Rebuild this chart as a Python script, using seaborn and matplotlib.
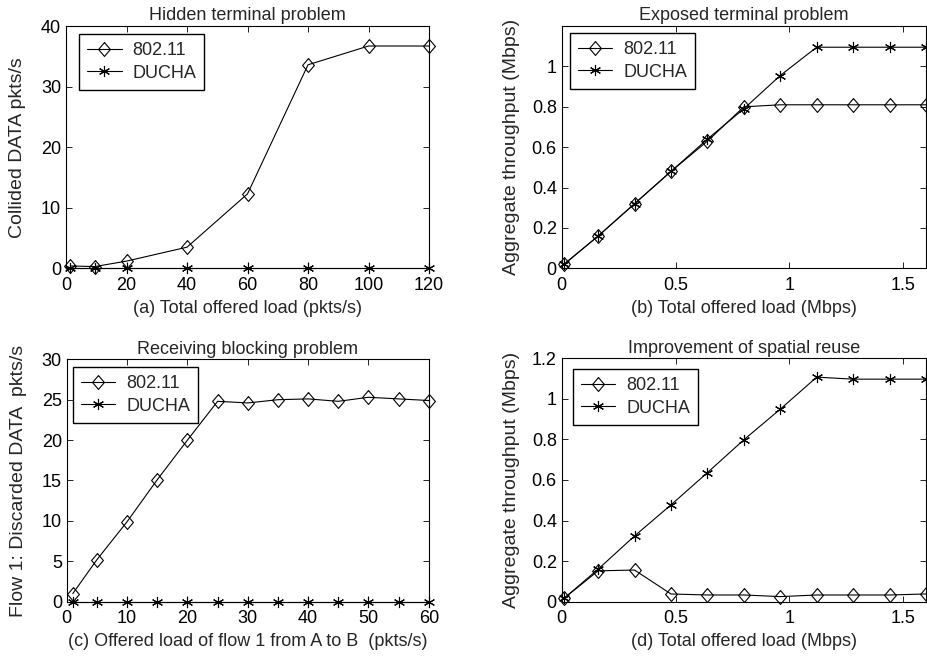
#recreating the four DUCHA vs 802.11 comparison panels
import numpy as np
import pandas as pd
import matplotlib
matplotlib.use("Agg")
import matplotlib.pyplot as plt
import seaborn as sns
from matplotlib.ticker import FormatStrFormatter

#data
series_names = ["802.11", "DUCHA"]

# (a) hidden terminal problem
load_a = [1.4, 9.5, 20, 40, 60, 80, 100, 120]
ieee_a = [0.4, 0.3, 1.2, 3.5, 12.3, 33.6, 36.7, 36.7]
ducha_a = [0, 0, 0, 0, 0, 0, 0, 0]

# (b) exposed terminal problem
load_b = [0.01, 0.16, 0.32, 0.48, 0.64, 0.80, 0.96, 1.12, 1.28, 1.44, 1.60]
ieee_b = [0.02, 0.16, 0.32, 0.48, 0.63, 0.80, 0.81, 0.81, 0.81, 0.81, 0.81]
ducha_b = [0.02, 0.16, 0.32, 0.48, 0.64, 0.79, 0.955, 1.095, 1.095, 1.095, 1.095]

# (c) receiving blocking problem
load_c = [1, 5, 10, 15, 20, 25, 30, 35, 40, 45, 50, 55, 60]
ieee_c = [1.0, 5.2, 9.9, 15.1, 20.0, 24.8, 24.6, 25.0, 25.1, 24.8, 25.3, 25.1, 24.9]
ducha_c = [0, 0, 0, 0, 0, 0, 0, 0, 0, 0, 0, 0, 0]

# (d) improvement of spatial reuse
load_d = [0.01, 0.16, 0.32, 0.48, 0.64, 0.80, 0.96, 1.12, 1.28, 1.44, 1.60]
ieee_d = [0.016, 0.152, 0.156, 0.038, 0.033, 0.033, 0.025, 0.033, 0.033, 0.033, 0.038]
ducha_d = [0.016, 0.16, 0.324, 0.477, 0.636, 0.798, 0.949, 1.107, 1.097, 1.097, 1.097]

titles = [
    "Hidden terminal problem",
    "Exposed terminal problem",
    "Receiving blocking problem",
    "Improvement of spatial reuse",
]
xlabels = [
    "(a) Total offered load (pkts/s)",
    "(b) Total offered load (Mbps)",
    "(c) Offered load of flow 1 from A to B  (pkts/s)",
    "(d) Total offered load (Mbps)",
]
ylabels = [
    "Collided DATA pkts/s",
    "Aggregate throughput (Mbps)",
    "Flow 1: Discarded DATA  pkts/s",
    "Aggregate throughput (Mbps)",
]

sns.set_style("ticks")
plt.rcParams["font.family"] = ["Liberation Sans", "DejaVu Sans"]
plt.rcParams["font.size"] = 13
plt.rcParams["xtick.direction"] = "in"
plt.rcParams["ytick.direction"] = "in"
plt.rcParams["xtick.top"] = True
plt.rcParams["ytick.right"] = True

fig = plt.figure(figsize=(9.27, 6.57), dpi=100)

# axes positions in figure fraction
positions = [
    [0.0712, 0.5915, 0.3916, 0.3689],
    [0.6059, 0.5915, 0.3930, 0.3689],
    [0.0720, 0.0842, 0.3906, 0.3689],
    [0.6059, 0.0842, 0.3930, 0.3705],
]
legend_anchor = [(0.036, 0.967), (0.023, 0.971), (0.017, 0.968), (0.031, 0.956)]
ylabel_x = [-0.110, -0.115, -0.110, -0.115]

panels = [
    (load_a, ieee_a, ducha_a),
    (load_b, ieee_b, ducha_b),
    (load_c, ieee_c, ducha_c),
    (load_d, ieee_d, ducha_d),
]

# matlab style markers: slightly tall open diamond and a 6 arm asterisk
diamond = [(0, 1), (0.85, 0), (0, -1), (-0.85, 0), (0, 1)]
asterisk = (6, 2, 0)

for i, (load, ieee, ducha) in enumerate(panels):
    ax = fig.add_axes(positions[i])
    df = pd.DataFrame({"load": load, "802.11": ieee, "DUCHA": ducha})

    sns.lineplot(
        data=df, x="load", y="802.11", ax=ax, color="black",
        marker=diamond, markersize=10, markerfacecolor="none",
        markeredgecolor="black", markeredgewidth=0.8,
        linewidth=0.8, label="802.11", clip_on=False,
    )
    sns.lineplot(
        data=df, x="load", y="DUCHA", ax=ax, color="black",
        marker=asterisk, markersize=8, markeredgecolor="black",
        markeredgewidth=0.8, linewidth=0.8, label="DUCHA", clip_on=False,
    )

    ax.set_title(titles[i], fontsize=13, pad=4)
    ax.set_xlabel(xlabels[i], fontsize=13, labelpad=4.5)
    ax.set_ylabel(ylabels[i], fontsize=14)
    ax.yaxis.set_label_coords(ylabel_x[i], 0.5)

    for s in ax.spines.values():
        s.set_color("black")
        s.set_linewidth(0.8)
    ax.tick_params(which="both", length=4, width=0.6, colors="black",
                   labelsize=13)
    ax.tick_params(axis="x", pad=6)
    ax.tick_params(axis="y", pad=3.5)

    leg = ax.legend(loc="upper left", bbox_to_anchor=legend_anchor[i],
                    borderaxespad=0, fancybox=False, framealpha=1,
                    edgecolor="black", fontsize=13, handlelength=1.9,
                    handletextpad=0.6, labelspacing=0.3, borderpad=0.45)
    leg.get_frame().set_linewidth(1.0)

# axis ranges and ticks
axes = fig.axes
axes[0].set_xlim(0, 120)
axes[0].set_ylim(0, 40)
axes[0].set_xticks(np.arange(0, 121, 20))
axes[0].set_yticks(np.arange(0, 41, 10))

axes[1].set_xlim(0, 1.6)
axes[1].set_ylim(0, 1.2)
axes[1].set_xticks([0, 0.5, 1, 1.5])
axes[1].set_yticks([0, 0.2, 0.4, 0.6, 0.8, 1])

axes[2].set_xlim(0, 60)
axes[2].set_ylim(0, 30)
axes[2].set_xticks(np.arange(0, 61, 10))
axes[2].set_yticks(np.arange(0, 31, 5))

axes[3].set_xlim(0, 1.6)
axes[3].set_ylim(0, 1.2)
axes[3].set_xticks([0, 0.5, 1, 1.5])
axes[3].set_yticks([0, 0.2, 0.4, 0.6, 0.8, 1, 1.2])

for ax in axes:
    ax.xaxis.set_major_formatter(FormatStrFormatter("%g"))
    ax.yaxis.set_major_formatter(FormatStrFormatter("%g"))

fig.savefig("out.png", dpi=100)
